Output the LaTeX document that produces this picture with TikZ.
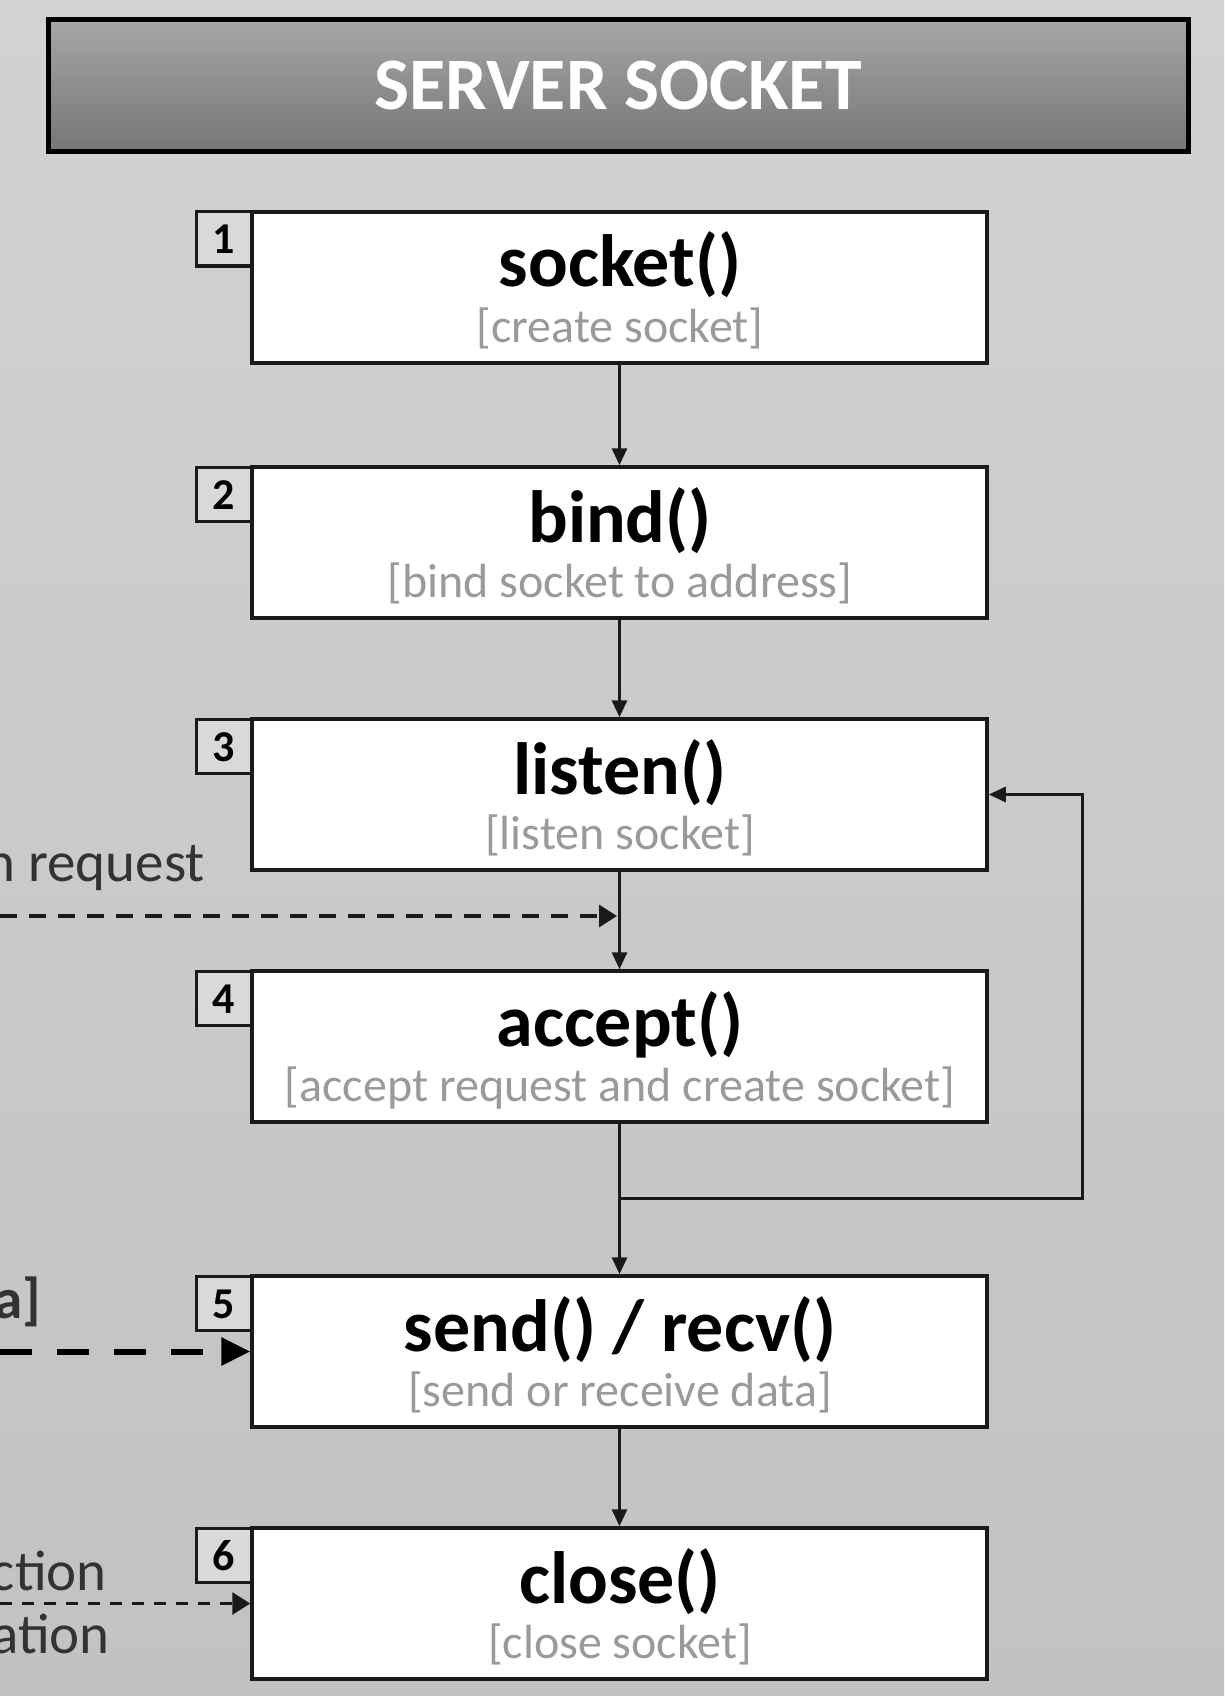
\documentclass[tikz,border=0pt]{standalone}
\usepackage{fontspec}
\setmainfont{Carlito}
\usetikzlibrary{arrows.meta}
\definecolor{bgtop}{HTML}{D2D2D2}
\definecolor{bgbot}{HTML}{C2C2C2}
\definecolor{hdrtop}{HTML}{A6A6A6}
\definecolor{hdrbot}{HTML}{767676}
\definecolor{boxline}{HTML}{1A1A1A}
\definecolor{tabfill}{HTML}{D9D9D9}
\definecolor{subgray}{HTML}{9A9A9A}
\definecolor{sidetext}{HTML}{333333}
\definecolor{linecol}{HTML}{1A1A1A}
\begin{document}
\begin{tikzpicture}[x=1pt,y=-1pt,
  stepbox/.style={draw=boxline, line width=3.5pt, fill=white, minimum width=735pt, minimum height=151pt, inner sep=0pt},
  tabbox/.style={draw=boxline, line width=3pt, fill=tabfill, minimum width=56pt, minimum height=54pt, inner sep=0pt},
  fn/.style={font=\fontsize{74}{80}\selectfont\bfseries, text=black, anchor=base, inner sep=0pt},
  sub/.style={font=\fontsize{48}{52}\selectfont, text=subgray, anchor=base, inner sep=0pt},
  num/.style={font=\fontsize{44}{48}\selectfont\bfseries, text=black, anchor=base, inner sep=0pt},
  side/.style={font=\fontsize{57}{60}\selectfont, text=sidetext, anchor=base east, inner sep=0pt},
  arr/.style={line width=3pt, draw=linecol, -{Triangle[length=17pt,width=15pt]}},
  dashthin/.style={line width=3.5pt, draw=linecol, dash pattern=on 17pt off 12pt, -{Triangle[length=18pt,width=22pt]}},
  dashthick/.style={line width=6pt, draw=black, dash pattern=on 32pt off 25pt, -{Triangle[length=29pt,width=27pt]}}
]
\useasboundingbox (0,0) rectangle (1224,1696);
\shade[top color=bgtop, bottom color=bgbot] (0,0) rectangle (1224,1696);

% header
\node[draw=black, line width=5pt, top color=hdrtop, bottom color=hdrbot, minimum width=1140pt, minimum height=132pt, inner sep=0pt] (hdr) at (618,85.5) {};
\node[font=\fontsize{74}{80}\selectfont\bfseries, text=white, anchor=base, inner sep=0pt] (hdrt) at (618,110) {SERVER SOCKET};

% tabs
\node[tabbox] (t1) at (224,239) {};
\node[tabbox] (t2) at (224,494) {};
\node[tabbox] (t3) at (224,746) {};
\node[tabbox] (t4) at (224,998) {};
\node[tabbox] (t5) at (224,1303) {};
\node[tabbox] (t6) at (224,1555) {};

% boxes
\node[stepbox] (b1) at (619.5,287.5) {};
\node[stepbox] (b2) at (619.5,542.5) {};
\node[stepbox] (b3) at (619.5,794.5) {};
\node[stepbox] (b4) at (619.5,1046.5) {};
\node[stepbox] (b5) at (619.5,1351.5) {};
\node[stepbox] (b6) at (619.5,1603.5) {};

% numbers
\node[num] (n1) at (224,254) {1};
\node[num] (n2) at (224,509) {2};
\node[num] (n3) at (224,761) {3};
\node[num] (n4) at (224,1013) {4};
\node[num] (n5) at (224,1318) {5};
\node[num] (n6) at (224,1570) {6};

% function names
\node[fn] (f1) at (620,287) {socket()};
\node[fn] (f2) at (620,542) {bind()};
\node[fn] (f3) at (620,794) {listen()};
\node[fn] (f4) at (620,1046) {accept()};
\node[fn] (f5) at (620,1351) {send() / recv()};
\node[fn] (f6) at (620,1603) {close()};

% descriptions
\node[sub] (s1) at (620,342) {[create socket]};
\node[sub] (s2) at (620,597) {[bind socket to address]};
\node[sub] (s3) at (620,849) {[listen socket]};
\node[sub] (s4) at (620,1101) {[accept request and create socket]};
\node[sub] (s5) at (620,1406) {[send or receive data]};
\node[sub] (s6) at (620,1658) {[close socket]};

% main flow
\draw[arr] (b1.south) -- (b2.north);
\draw[arr] (b2.south) -- (b3.north);
\draw[arr] (b3.south) -- (b4.north);
\draw[arr] (b4.south) -- (b5.north);
\draw[arr] (b5.south) -- (b6.north);
\coordinate (j) at (620,1198);
\coordinate (lr) at (1082,1198);
\coordinate (ur) at (1082,794.5);
\draw[arr] (j) -- (lr) -- (ur) -- (b3.east);

% side inputs
\node[side] (lreq) at (205,881) {n request};
\coordinate (rq0) at (0,916);
\coordinate (rq1) at (617,916);
\draw[dashthin] (rq0) -- (rq1);

\node[side, font=\fontsize{57}{60}\selectfont\bfseries] (ldat) at (41,1318) {a]};
\coordinate (dt0) at (0,1351.5);
\draw[dashthick] (dt0) -- (b5.west);

\node[side] (lcl1) at (107,1590) {ction};
\node[side] (lcl2) at (110,1653) {ation};
\coordinate (cl0) at (0,1603.5);
\draw[dashthin, line width=3pt, dash pattern=on 12pt off 10pt] (cl0) -- (b6.west);
\end{tikzpicture}
\end{document}
